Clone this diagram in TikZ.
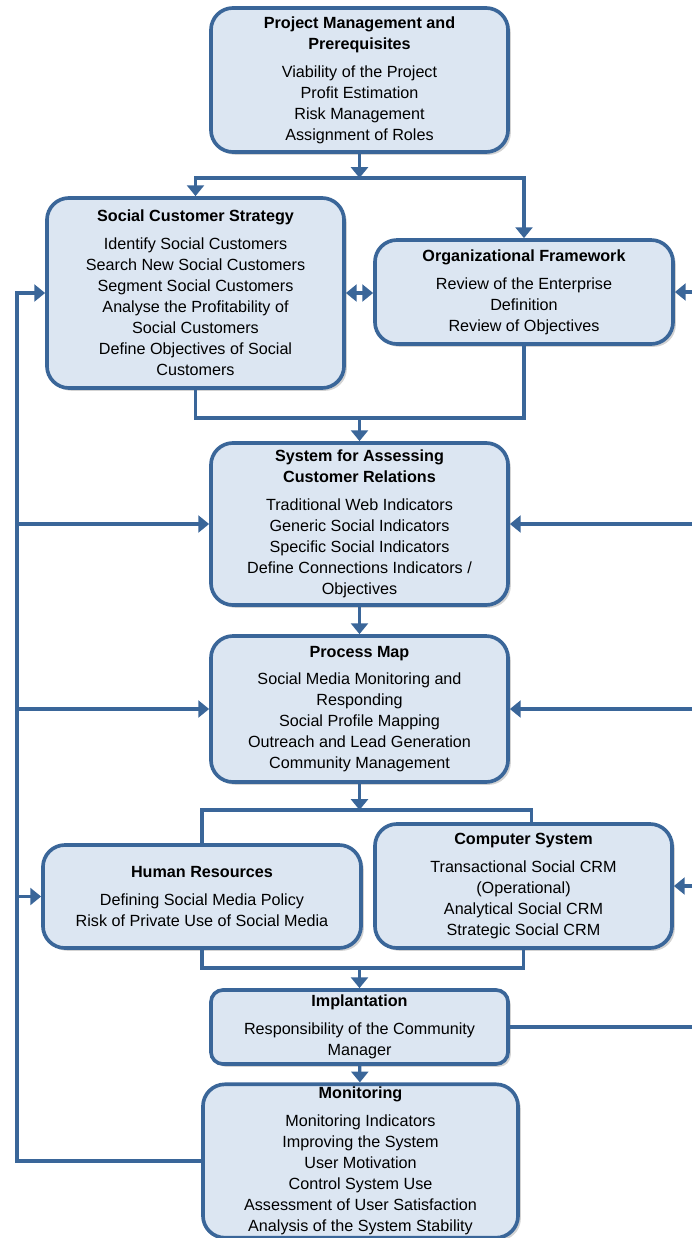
\documentclass[tikz,border=0pt]{standalone}
\usepackage{fontspec}
\setmainfont{Liberation Sans}
\usetikzlibrary{arrows.meta,shadows}
\definecolor{boxline}{RGB}{58,102,153}
\definecolor{boxfill}{RGB}{220,230,242}

\begin{document}
\begin{tikzpicture}[x=0.025cm, y=-0.025cm,
  box/.style={draw=boxline, fill=boxfill, line width=2.6pt, rounded corners=0.55cm, align=center, inner sep=2pt, font=\fontsize{11.5}{14.9}\selectfont, drop shadow={shadow xshift=2pt, shadow yshift=-2pt, opacity=0.35}},
  link/.style={draw=boxline, line width=2.3pt},
  arr/.style={link, -{Triangle[width=0.42cm,length=0.27cm]}},
  arr2/.style={link, {Triangle[width=0.42cm,length=0.27cm]}-{Triangle[width=0.42cm,length=0.27cm]}}]
\useasboundingbox (0,0) rectangle (692,1238);

\node[box, minimum width=7.425cm, minimum height=3.6cm] (pm) at (359.5,80) {\textbf{Project Management and}\\\textbf{Prerequisites}\\[5pt]Viability of the Project\\Profit Estimation\\Risk Management\\Assignment of Roles};
\node[box, minimum width=7.425cm, minimum height=4.75cm] (sc) at (195.5,293) {\textbf{Social Customer Strategy}\\[5pt]Identify Social Customers\\Search New Social Customers\\Segment Social Customers\\Analyse the Profitability of\\Social Customers\\Define Objectives of Social\\Customers};
\node[box, minimum width=7.45cm, minimum height=2.6cm] (of) at (524,292) {\textbf{Organizational Framework}\\[5pt]Review of the Enterprise\\Definition\\Review of Objectives};
\node[box, minimum width=7.425cm, minimum height=4.05cm] (sar) at (359.5,524) {\textbf{System for Assessing}\\\textbf{Customer Relations}\\[5pt]Traditional Web Indicators\\Generic Social Indicators\\Specific Social Indicators\\Define Connections Indicators /\\Objectives};
\node[box, minimum width=7.425cm, minimum height=3.65cm] (pmap) at (359.5,709) {\textbf{Process Map}\\[5pt]Social Media Monitoring and\\Responding\\Social Profile Mapping\\Outreach and Lead Generation\\Community Management};
\node[box, minimum width=7.95cm, minimum height=2.575cm] (hr) at (202,896.5) {\textbf{Human Resources}\\[5pt]Defining Social Media Policy\\Risk of Private Use of Social Media};
\node[box, minimum width=7.425cm, minimum height=3.1cm] (cs) at (523.5,886) {\textbf{Computer System}\\[5pt]Transactional Social CRM\\(Operational)\\Analytical Social CRM\\Strategic Social CRM};
\node[box, rounded corners=0.3cm, minimum width=7.425cm, minimum height=1.85cm] (impl) at (359.5,1027) {\textbf{Implantation}\\[5pt]Responsibility of the Community\\Manager};
\node[box, minimum width=7.875cm, minimum height=3.75cm] (mon) at (360.5,1161) {\textbf{Monitoring}\\[5pt]Monitoring Indicators\\Improving the System\\User Motivation\\Control System Use\\Assessment of User Satisfaction\\Analysis of the System Stability};

\coordinate (j1) at (359.5,178);
\coordinate (j2) at (359.5,418);
\coordinate (j3) at (359.5,810);
\coordinate (j4) at (359.5,968);
\coordinate (L) at (17,0);
\coordinate (R) at (692,0);

\draw[arr] (pm) -- (j1);
\draw[arr] (j1) -| (sc.north);
\draw[arr] (j1) -| (of.north);
\draw[arr2] (sc.east) -- (of.west |- sc.east);
\draw[link] (sc.south) |- (j2) -| (of.south);
\draw[arr] (j2) -- (sar);
\draw[arr] (sar) -- (pmap);
\draw[arr] (pmap) -- (j3);
\draw[link] (hr.north) |- (j3) -| ([xshift=0.2cm]cs.north);
\draw[link] (hr.south) |- (j4) -| (cs.south);
\draw[arr] (j4) -- (impl);
\draw[arr] (impl) -- (mon);
\draw[link] (impl.east) -- (impl.east -| R);

\draw[arr] (mon.west) -| (L |- sc.west) -- (sc.west);
\draw[arr] (L |- sar.west) -- (sar.west);
\draw[arr] (L |- pmap.west) -- (pmap.west);
\draw[arr] (L |- hr.west) -- (hr.west);

\draw[arr] (R |- of.east) -- (of.east);
\draw[arr] (R |- sar.east) -- (sar.east);
\draw[arr] (R |- pmap.east) -- (pmap.east);
\draw[arr] (R |- cs.east) -- (cs.east);
\end{tikzpicture}
\end{document}
